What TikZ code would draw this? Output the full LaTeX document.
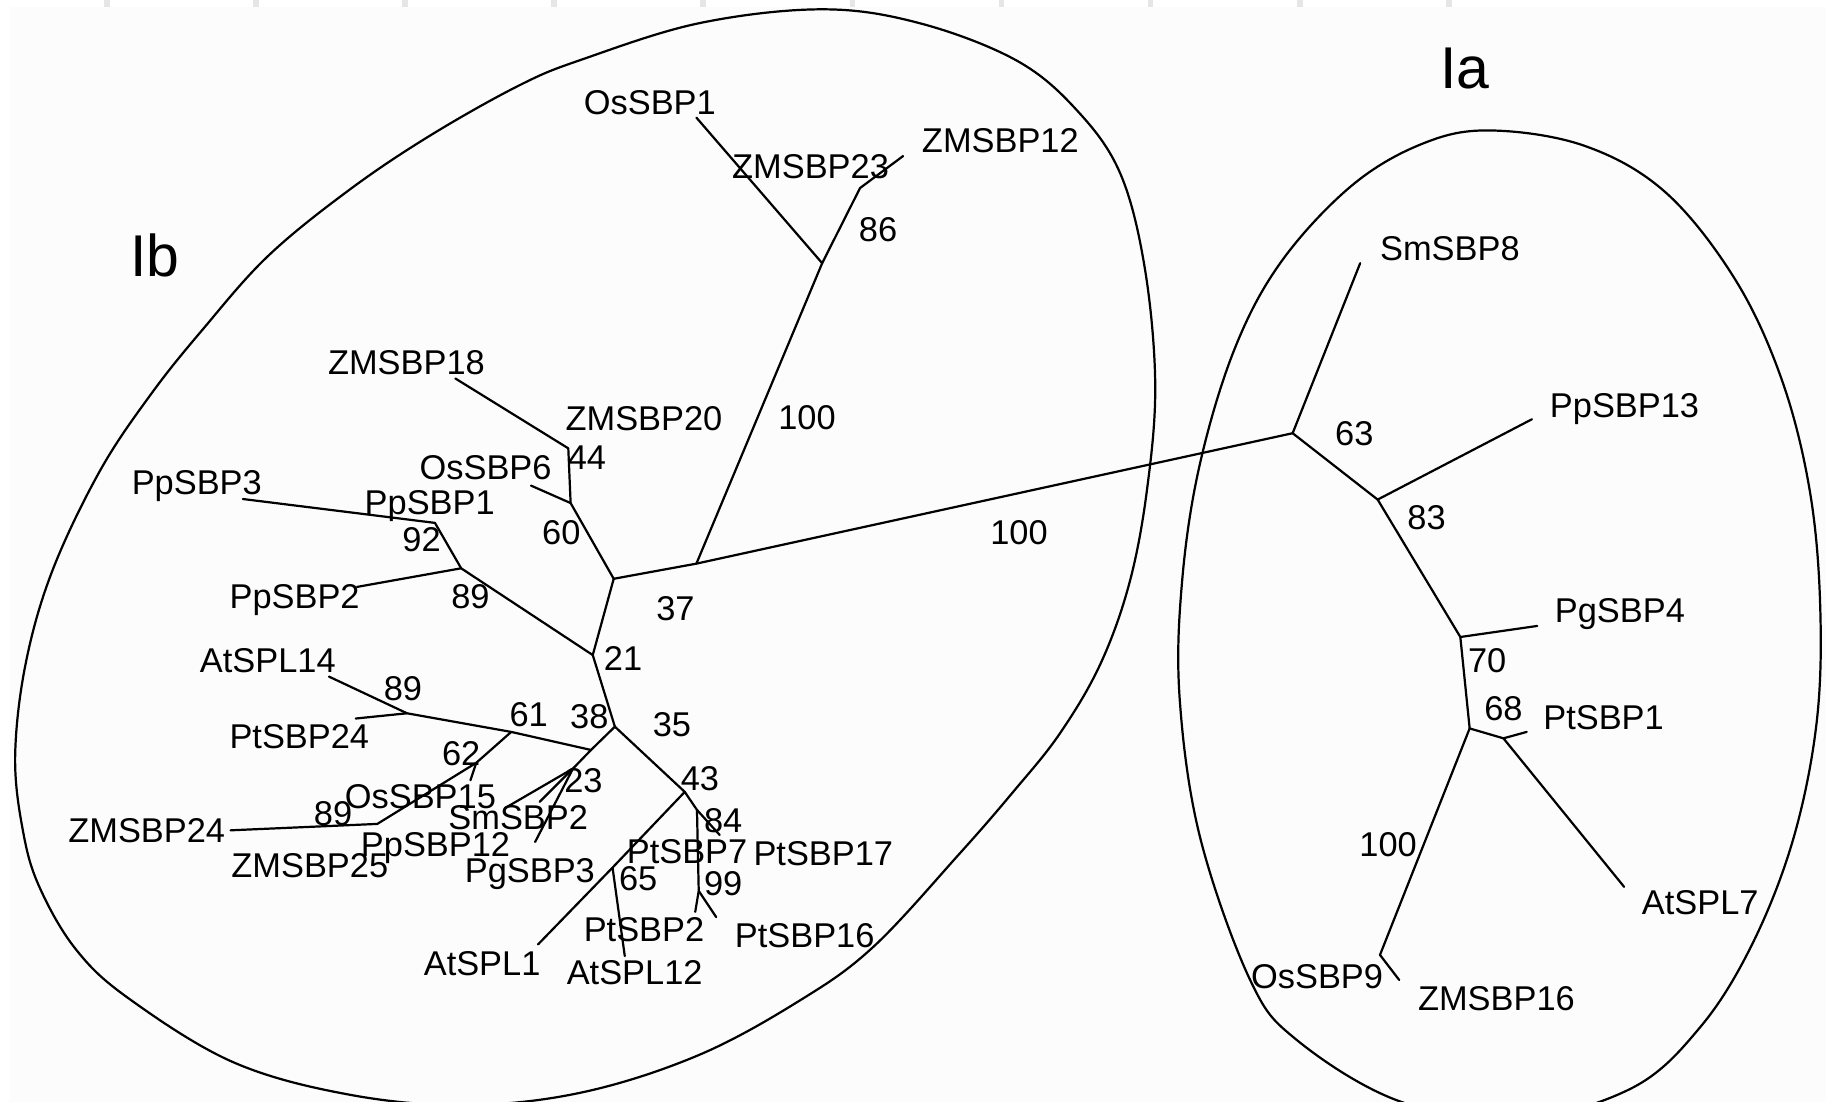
\documentclass[tikz,border=0pt]{standalone}
\usepackage{fontspec}
\setmainfont{Liberation Sans}
\definecolor{panel}{HTML}{FCFCFC}
\definecolor{tickgray}{HTML}{E6E6E6}
\begin{document}
\begin{tikzpicture}[x=0.025cm,y=-0.025cm,
  branch/.style={line width=1.35pt, line cap=round, line join=round},
  hull/.style={line width=1.35pt},
  lab/.style={font=\fontsize{21}{21}\selectfont, inner sep=0pt, text height=15pt, text depth=0pt},
  grp/.style={font=\fontsize{36}{36}\selectfont, inner sep=0pt, text height=25.8pt, text depth=0pt}]
\useasboundingbox (0,0) rectangle (1568,946);
% page and ruler strip
\fill[white] (0,0) rectangle (1568,946);
\fill[panel] (8.6,6.3) rectangle (1568,946);
\foreach \i in {0,...,9} \fill[tickgray] ({89.5+128*\i},0) rectangle ++(5,6.3);

% group outlines
\begin{scope}
\clip (8.6,6.3) rectangle (1568,946);
\draw[hull] plot[smooth cycle, tension=0.6] coordinates {
  (706,8) (790,20) (873,52) (925,95) (962,149) (983,230) (992,330) (985,420)
  (970,500) (945,570) (910,630) (870,680) (824,733) (750,813) (687,859)
  (600,906) (500,938) (400,949) (300,940) (200,912) (110,857) (65,815)
  (34,762) (20,715) (13,650) (22,570) (45,490) (86,404) (130,338) (174,283)
  (230,220) (300,163) (370,116) (446.5,73) (500,51) (600,20)};
\draw[hull] plot[smooth cycle, tension=0.6] coordinates {
  (1278,112) (1360,125) (1430,165) (1490,240) (1530,326) (1554,421) (1563,520)
  (1560,620) (1540,720) (1505,810) (1460,882) (1400,935) (1300,962) (1200,945)
  (1113.5,893) (1073.5,841.5) (1030.5,719) (1013,600) (1015,500) (1030,400)
  (1060,300) (1100,225) (1160,160) (1220,124)};
\end{scope}

% ---- clade Ib: junctions and tips
\coordinate (j1) at (527,497);
\coordinate (j2) at (598,484);
\coordinate (j3) at (706,226);
\coordinate (tOsSBP1) at (598,101);
\coordinate (j4) at (738.5,161.5);
\coordinate (tZM12) at (775.5,134);
\coordinate (j5) at (490,432);
\coordinate (tOsSBP6) at (456,417);
\coordinate (j6) at (488,385);
\coordinate (tZM18) at (391,325);
\coordinate (j7) at (509,562.5);
\coordinate (j8) at (396,488);
\coordinate (tPp2) at (306.5,504);
\coordinate (j9) at (373.5,449);
\coordinate (tPp3) at (208.5,428.5);
\coordinate (j10) at (528,624);
\coordinate (j12) at (507.5,644);
\coordinate (j13) at (439,628.5);
\coordinate (j14) at (349.5,612.5);
\coordinate (tAt14) at (282.5,581);
\coordinate (tPt24) at (305.5,617);
\coordinate (j15) at (409,655);
\coordinate (tOs15) at (404,670);
\coordinate (j16) at (324,707.5);
\coordinate (tZM24) at (198,713);
\coordinate (j23) at (492,660);
\coordinate (tPp12) at (433.5,694);
\coordinate (tSm2) at (463.5,688.5);
\coordinate (tPg3) at (459.5,723);
\coordinate (j17) at (588,680);
\coordinate (j18) at (526,745);
\coordinate (tAt1) at (462,811);
\coordinate (tAt12) at (536.5,821);
\coordinate (j19) at (598.5,695.5);
\coordinate (tPt17) at (618,717);
\coordinate (j20) at (600,765);
\coordinate (tPt7) at (597,783);
\coordinate (tPt16) at (615,787.5);

% ---- clade Ia: junctions and tips
\coordinate (ja) at (1110,372);
\coordinate (tSm8) at (1168,226);
\coordinate (j21) at (1183,429);
\coordinate (tPp13) at (1315.5,360);
\coordinate (j22) at (1254,547);
\coordinate (tPg4) at (1320,537.5);
\coordinate (j23a) at (1262,625.5);
\coordinate (j24) at (1291,634);
\coordinate (tPt1) at (1311,628.5);
\coordinate (tAt7) at (1394.6,761.5);
\coordinate (j25) at (1185,820);
\coordinate (tZM16) at (1201.5,841.5);

% branches
\draw[branch] (j1) -- (j2) -- (ja);
\draw[branch] (j2) -- (j3) -- (tOsSBP1);
\draw[branch] (j3) -- (j4) -- (tZM12);
\draw[branch] (j1) -- (j5) -- (tOsSBP6);
\draw[branch] (j5) -- (j6) -- (tZM18);
\draw[branch] (j1) -- (j7) -- (j8) -- (tPp2);
\draw[branch] (j8) -- (j9) -- (tPp3);
\draw[branch] (j7) -- (j10) -- (j12) -- (j13) -- (j14) -- (tAt14);
\draw[branch] (j14) -- (tPt24);
\draw[branch] (j13) -- (j15) -- (tOs15);
\draw[branch] (j15) -- (j16) -- (tZM24);
\draw[branch] (j12) -- (j23) -- (tPp12);
\draw[branch] (j23) -- (tSm2);
\draw[branch] (j23) -- (tPg3);
\draw[branch] (j10) -- (j17) -- (j18) -- (tAt1);
\draw[branch] (j18) -- (tAt12);
\draw[branch] (j17) -- (j19) -- (tPt17);
\draw[branch] (j19) -- (j20) -- (tPt7);
\draw[branch] (j20) -- (tPt16);
\draw[branch] (ja) -- (tSm8);
\draw[branch] (ja) -- (j21) -- (tPp13);
\draw[branch] (j21) -- (j22) -- (tPg4);
\draw[branch] (j22) -- (j23a) -- (j24) -- (tPt1);
\draw[branch] (j24) -- (tAt7);
\draw[branch] (j23a) -- (j25) -- (tZM16);

% group names
\node[grp] (gIb) at (133,219) {Ib};
\node[grp] (gIa) at (1258,58) {Ia};

% taxon names, clade Ib
\node[lab] (lOsSBP1) at (558,88) {OsSBP1};
\node[lab] (lZMSBP23) at (696,143) {ZMSBP23};
\node[lab] (lZMSBP12) at (859,120) {ZMSBP12};
\node[lab] (lZMSBP18) at (349,311) {ZMSBP18};
\node[lab] (lZMSBP20) at (553,359) {ZMSBP20};
\node[lab] (lOsSBP6) at (417,401) {OsSBP6};
\node[lab] (lPpSBP3) at (169,414) {PpSBP3};
\node[lab] (lPpSBP1) at (369,431) {PpSBP1};
\node[lab] (lPpSBP2) at (253,512) {PpSBP2};
\node[lab] (lAtSPL14) at (230,567) {AtSPL14};
\node[lab] (lPtSBP24) at (257,632) {PtSBP24};
\node[lab] (lOsSBP15) at (361,684) {OsSBP15};
\node[lab] (lZMSBP24) at (126,713) {ZMSBP24};
\node[lab] (lSmSBP2) at (445,702) {SmSBP2};
\node[lab] (lPpSBP12) at (374,725) {PpSBP12};
\node[lab] (lPtSBP7) at (590,731) {PtSBP7};
\node[lab] (lPtSBP17) at (707,733) {PtSBP17};
\node[lab] (lZMSBP25) at (266,743) {ZMSBP25};
\node[lab] (lPgSBP3) at (455,747) {PgSBP3};
\node[lab] (lPtSBP2) at (553,798) {PtSBP2};
\node[lab] (lPtSBP16) at (691,803) {PtSBP16};
\node[lab] (lAtSPL1) at (414,827) {AtSPL1};
\node[lab] (lAtSPL12) at (545,835) {AtSPL12};

% taxon names, clade Ia
\node[lab] (lSmSBP8) at (1245,213) {SmSBP8};
\node[lab] (lPpSBP13) at (1395,348) {PpSBP13};
\node[lab] (lPgSBP4) at (1391,524) {PgSBP4};
\node[lab] (lPtSBP1) at (1377,616) {PtSBP1};
\node[lab] (lAtSPL7) at (1460,775) {AtSPL7};
\node[lab] (lOsSBP9) at (1131,838) {OsSBP9};
\node[lab] (lZMSBP16) at (1285,857) {ZMSBP16};

% bootstrap values
\node[lab] (b86) at (754,197) {86};
\node[lab] (b100a) at (693,358) {100};
\node[lab] (b100b) at (875,457) {100};
\node[lab] (b37) at (580,522) {37};
\node[lab] (b44) at (504,393) {44};
\node[lab] (b60) at (482,457) {60};
\node[lab] (b92) at (362,463) {92};
\node[lab] (b89a) at (404,512) {89};
\node[lab] (b21) at (535,565) {21};
\node[lab] (b89b) at (346,591) {89};
\node[lab] (b61) at (454,613) {61};
\node[lab] (b38) at (506,615) {38};
\node[lab] (b35) at (577,622) {35};
\node[lab] (b62) at (396,647) {62};
\node[lab] (b23) at (501,670) {23};
\node[lab] (b43) at (601,668) {43};
\node[lab] (b89c) at (286,698) {89};
\node[lab] (b84) at (621,704) {84};
\node[lab] (b65) at (548,754) {65};
\node[lab] (b99) at (621,758) {99};
\node[lab] (b63) at (1163,372) {63};
\node[lab] (b83) at (1225,444) {83};
\node[lab] (b70) at (1277,567) {70};
\node[lab] (b68) at (1291,608) {68};
\node[lab] (b100c) at (1192,725) {100};
\end{tikzpicture}
\end{document}
